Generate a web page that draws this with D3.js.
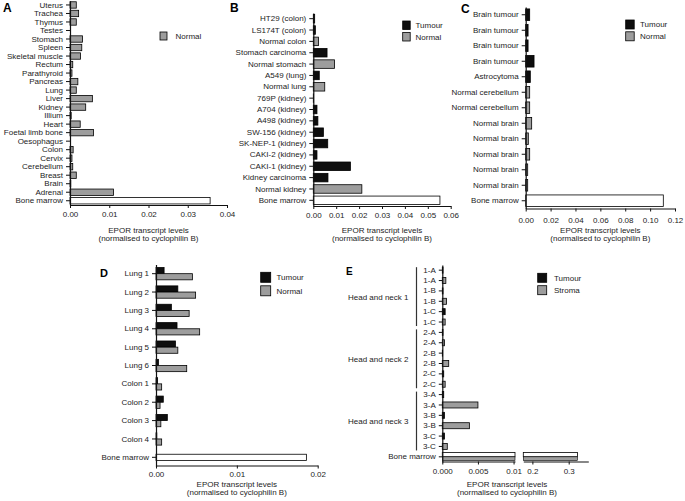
<!DOCTYPE html>
<html><head><meta charset="utf-8">
<script src="https://cdn.jsdelivr.net/npm/d3@7/dist/d3.min.js"></script>
<style>
body{margin:0;background:#fff}
svg{display:block}
</style></head><body>
<svg id="chart" width="685" height="501"></svg>
<script>
// ---------- DATA ----------
// Panel A
const catsA = ["Uterus","Trachea","Thymus","Testes","Stomach","Spleen","Skeletal muscle","Rectum","Parathyroid","Pancreas","Lung","Liver","Kidney","Illium","Heart","Foetal limb bone","Oesophagus","Colon","Cervix","Cerebellum","Breast","Brain","Adrenal","Bone marrow"];
const valsA = [0.0016,0.0022,0.0016,0,0.0032,0.0030,0.0027,0.0007,0.0005,0.0020,0.0016,0.0057,0.0040,0.0003,0.0026,0.0060,0,0.0008,0.0005,0.0007,0.0016,0.0002,0.0111,0.0357];
const typesA = ["N","N","N","N","N","N","N","N","N","N","N","N","N","N","N","N","N","N","N","N","N","N","N","BM"];
const ticksA = [0,0.01,0.02,0.03,0.04];

// Panel B
const catsB = ["HT29 (colon)","LS174T (colon)","Normal colon","Stomach carcinoma","Normal stomach","A549 (lung)","Normal lung","769P (kidney)","A704 (kidney)","A498 (kidney)","SW-156 (kidney)","SK-NEP-1 (kidney)","CAKI-2 (kidney)","CAKI-1 (kidney)","Kidney carcinoma","Normal kidney","Bone marrow"];
const valsB = [0.0006,0.0009,0.0023,0.0060,0.0093,0.0026,0.0050,0.0001,0.0016,0.0020,0.0044,0.0063,0.0016,0.0162,0.0064,0.0212,0.0553];
const typesB = ["T","T","N","T","N","T","N","T","T","T","T","T","T","T","T","N","BM"];
const ticksB = [0,0.01,0.02,0.03,0.04,0.05,0.06];

// Panel C
const catsC = ["Brain tumour","Brain tumour","Brain tumour","Brain tumour","Astrocytoma","Normal cerebellum","Normal cerebellum","Normal brain","Normal brain","Normal brain","Normal brain","Normal brain","Bone marrow"];
const valsC = [0.0032,0.0019,0.0019,0.0067,0.0037,0.0032,0.0032,0.0048,0.0021,0.0032,0.0016,0.0016,0.1106];
const typesC = ["T","T","T","T","T","N","N","N","N","N","N","N","BM"];
const ticksC = [0,0.02,0.04,0.06,0.08,0.10,0.12];

// Panel D
const catsD = ["Lung 1","Lung 2","Lung 3","Lung 4","Lung 5","Lung 6","Colon 1","Colon 2","Colon 3","Colon 4","Bone marrow"];
const tumourD = [0.0010,0.0027,0.0019,0.0026,0.0024,0.0003,0.0002,0.0009,0.0014,0.0001];
const normalD = [0.0045,0.0049,0.0041,0.0054,0.0027,0.0038,0.0007,0.0005,0.0006,0.0007];
const boneMarrowD = 0.0186;
const ticksD = [0,0.01,0.02];

// Panel E
const catsE = ["1-A","1-A","1-B","1-B","1-C","1-C","2-A","2-A","2-B","2-B","2-C","2-C","3-A","3-A","3-B","3-B","3-C","3-C","Bone marrow"];
const valsE = [0.0001,0.0005,0.0001,0.0006,0.0004,0.0004,0.0001,0.0003,0.00005,0.0009,0.0002,0.0004,0.0002,0.0050,0.0003,0.0038,0.0003,0.0007];
const typesE = ["T","S","T","S","T","S","T","S","T","S","T","S","T","S","T","S","T","S"];
const boneMarrowE = 0.324;
const groupsE = ["Head and neck 1","Head and neck 2","Head and neck 3"];
const ticksE1 = [0,0.005,0.01];
const tickLabelsE1 = ["0.000","0.005","0.01"];
const ticksE2 = [0.2,0.3];
const tickLabelsE2 = ["0.2","0.3"];

const titleLines = ["EPOR transcript levels","(normalised to cyclophilin B)"];

// ---------- DRAWING ----------
const FF = "'Liberation Sans', Arial, Helvetica, sans-serif";
const TXT = "#1c1c1c";
const svg = d3.select("#chart").attr("font-family", FF);
const fillOf = {T:"#0e0e0e", N:"#9d9d9d", S:"#9d9d9d", BM:"#ffffff"};

function styleAxis(g){
  g.attr("font-family", FF).attr("font-size", 8);
  g.select(".domain").attr("stroke","#111").attr("stroke-width",1.2);
  g.selectAll(".tick line").attr("stroke","#111").attr("stroke-width",1);
  g.selectAll(".tick text").attr("fill",TXT).attr("font-size",8);
}
function title(cx, y1){
  svg.append("g").selectAll("text").data(titleLines).join("text")
    .attr("x",cx).attr("y",(d,i)=>y1 + i*8.8)
    .attr("text-anchor","middle").attr("font-size",8).attr("fill",TXT).text(d=>d);
}
function legend(x, y, w, h, gap, tx, items){
  const g = svg.append("g");
  items.forEach((it,i)=>{
    g.append("rect").attr("x",x).attr("y",y+i*gap).attr("width",w).attr("height",h)
      .attr("fill",fillOf[it.t]).attr("stroke","#000").attr("stroke-width",0.8);
    g.append("text").attr("x",tx).attr("y",y+i*gap+h/2).attr("dy","0.35em")
      .attr("font-size",8).attr("fill",TXT).text(it.label);
  });
}
function letter(t, x, y, size){
  svg.append("text").attr("x",x).attr("y",y).attr("font-size",size).attr("font-weight","bold")
    .attr("font-family","'Liberation Sans', Arial, sans-serif").attr("fill","#000").text(t);
}

function barPanel(c){
  const x = d3.scaleLinear().domain([0, c.xMax]).range([c.x0, c.x1]);
  const y = d3.scaleBand().domain(d3.range(c.cats.length)).range([c.yTop, c.yBot])
    .paddingInner(c.pad).paddingOuter(c.pad/2);
  const data = c.vals.map((v,i)=>({v,i,t:c.types[i]})).filter(d=>d.v>0);
  svg.append("g").selectAll("rect").data(data).join("rect")
    .attr("x",x(0)).attr("y",d=>y(d.i)).attr("width",d=>x(d.v)-x(0)).attr("height",y.bandwidth())
    .attr("fill",d=>fillOf[d.t]).attr("stroke","#000").attr("stroke-width",0.8);
  svg.append("g").attr("transform",`translate(${x(0)},0)`)
    .call(d3.axisLeft(y).tickSize(4).tickSizeOuter(0).tickPadding(3).tickFormat(i=>c.cats[i]))
    .call(styleAxis);
  svg.append("g").attr("transform",`translate(0,${c.yBot})`)
    .call(d3.axisBottom(x).tickValues(c.ticks).tickFormat(d3.format(".2f")).tickSize(3).tickSizeOuter(0).tickPadding(c.tp))
    .call(styleAxis);
  title((c.x0+c.x1)/2, c.titleY);
}

// Panel A
barPanel({cats:catsA, vals:valsA, types:typesA, ticks:ticksA, xMax:0.04, x0:70, x1:227, yTop:0.7, yBot:205, pad:0.25, tp:3, titleY:232.5});
legend(160, 32, 7, 8, 12, 175.5, [{t:"N",label:"Normal"}]);
letter("A", 3, 12, 12);

// Panel B
barPanel({cats:catsB, vals:valsB, types:typesB, ticks:ticksB, xMax:0.06, x0:313.3, x1:450.7, yTop:13, yBot:206, pad:0.25, tp:3, titleY:232.5});
legend(402.7, 21, 7.5, 8.5, 11.5, 415.5, [{t:"T",label:"Tumour"},{t:"N",label:"Normal"}]);
letter("B", 230, 12, 12);

// Panel C
barPanel({cats:catsC, vals:valsC, types:typesC, ticks:ticksC, xMax:0.12, x0:525.7, x1:675, yTop:7, yBot:208.5, pad:0.25, tp:6, titleY:232.5});
legend(625.7, 20, 8.5, 9, 11.8, 640, [{t:"T",label:"Tumour"},{t:"N",label:"Normal"}]);
letter("C", 461, 13, 12);

// Panel D
(function(){
  const x = d3.scaleLinear().domain([0,0.02]).range([156,317.7]);
  const y = d3.scaleBand().domain(d3.range(catsD.length)).range([264.5,466.5]).paddingInner(0.33).paddingOuter(0.165);
  const bw = y.bandwidth();
  const g = svg.append("g");
  g.selectAll("rect.t").data(tumourD.map((v,i)=>({v,i}))).join("rect").attr("class","t")
    .attr("x",x(0)).attr("y",d=>y(d.i)).attr("width",d=>x(d.v)-x(0)).attr("height",bw/2)
    .attr("fill",fillOf.T).attr("stroke","#000").attr("stroke-width",0.8);
  g.selectAll("rect.n").data(normalD.map((v,i)=>({v,i}))).join("rect").attr("class","n")
    .attr("x",x(0)).attr("y",d=>y(d.i)+bw/2).attr("width",d=>x(d.v)-x(0)).attr("height",bw/2)
    .attr("fill",fillOf.N).attr("stroke","#000").attr("stroke-width",0.8);
  g.append("rect").attr("x",x(0)).attr("y",y(catsD.length-1)+bw/4).attr("width",x(boneMarrowD)-x(0)).attr("height",bw/2)
    .attr("fill",fillOf.BM).attr("stroke","#000").attr("stroke-width",0.8);
  svg.append("g").attr("transform",`translate(${x(0)},0)`)
    .call(d3.axisLeft(y).tickSize(4).tickSizeOuter(0).tickPadding(3).tickFormat(i=>catsD[i]))
    .call(styleAxis);
  svg.append("g").attr("transform",`translate(0,465.5)`)
    .call(d3.axisBottom(x).tickValues(ticksD).tickFormat(d3.format(".2f")).tickSize(3).tickSizeOuter(0).tickPadding(3))
    .call(styleAxis);
  title(236.8, 486.5);
  legend(260.7, 272.3, 10, 10, 13.5, 276.5, [{t:"T",label:"Tumour"},{t:"N",label:"Normal"}]);
  letter("D", 100, 277, 11);
})();

// Panel E
(function(){
  const x1 = d3.scaleLinear().domain([0,0.0102]).range([442.3,515]);
  const x2 = d3.scaleLinear().domain([0.175,0.354]).range([523.3,588.3]);
  const y = d3.scaleBand().domain(d3.range(catsE.length)).range([265,462]).paddingInner(0.42).paddingOuter(0.21);
  const bw = y.bandwidth(), step = y.step();
  const g = svg.append("g");
  g.selectAll("rect.r").data(valsE.map((v,i)=>({v,i,t:typesE[i]}))).join("rect").attr("class","r")
    .attr("x",x1(0)).attr("y",d=>y(d.i)).attr("width",d=>x1(d.v)-x1(0)).attr("height",bw)
    .attr("fill",d=>fillOf[d.t]).attr("stroke","#000").attr("stroke-width",0.8);
  // bone marrow (broken axis)
  const bmI = catsE.length-1, cy = y(bmI)+bw/2, hh = step*0.42;
  [[x1(0), x1.range()[1]],[x2.range()[0], x2(boneMarrowE)]].forEach(seg=>{
    g.append("rect").attr("x",seg[0]).attr("y",cy-hh).attr("width",seg[1]-seg[0]).attr("height",hh)
      .attr("fill",fillOf.BM).attr("stroke","#000").attr("stroke-width",0.8);
    g.append("rect").attr("x",seg[0]).attr("y",cy).attr("width",seg[1]-seg[0]).attr("height",hh-0.6)
      .attr("fill",fillOf.S).attr("stroke","#000").attr("stroke-width",0.6);
  });
  svg.append("g").attr("transform",`translate(${x1(0)},0)`)
    .call(d3.axisLeft(y).tickSize(3.5).tickSizeOuter(0).tickPadding(3).tickFormat(i=>catsE[i]))
    .call(styleAxis);
  svg.append("g").attr("transform",`translate(0,461.5)`)
    .call(d3.axisBottom(x1).tickValues(ticksE1).tickFormat((d,i)=>tickLabelsE1[i]).tickSize(3).tickSizeOuter(0).tickPadding(3.5))
    .call(styleAxis);
  svg.append("g").attr("transform",`translate(0,461.5)`)
    .call(d3.axisBottom(x2).tickValues(ticksE2).tickFormat((d,i)=>tickLabelsE2[i]).tickSize(3).tickSizeOuter(0).tickPadding(3.5))
    .call(styleAxis);
  // group brackets
  groupsE.forEach((name,k)=>{
    const a = y(k*6), b = y(k*6+5)+bw;
    svg.append("line").attr("x1",416.5).attr("x2",416.5).attr("y1",a).attr("y2",b+1)
      .attr("stroke","#333").attr("stroke-width",1.2);
    svg.append("text").attr("x",408.5).attr("y",(a+b)/2+1).attr("dy","0.35em").attr("text-anchor","end")
      .attr("font-size",8).attr("fill",TXT).text(name);
  });
  title(507, 486.5);
  legend(537.7, 273.3, 9, 9, 12.4, 554, [{t:"T",label:"Tumour"},{t:"S",label:"Stroma"}]);
  letter("E", 346, 274.5, 10);
})();
</script>
</body></html>
